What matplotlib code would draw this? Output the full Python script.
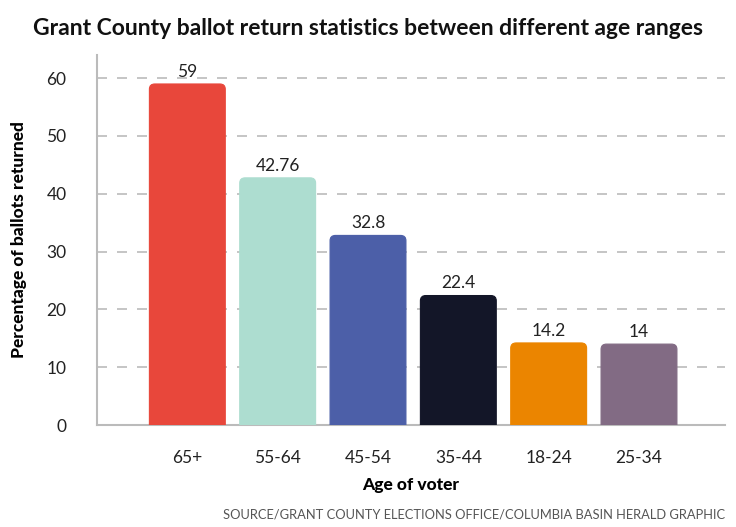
import matplotlib
matplotlib.use("Agg")
import matplotlib.pyplot as plt
from matplotlib.patches import FancyBboxPatch

# data
age_groups = ["65+", "55-64", "45-54", "35-44", "18-24", "25-34"]
pct_returned = [59, 42.76, 32.8, 22.4, 14.2, 14]
value_labels = ["59", "42.76", "32.8", "22.4", "14.2", "14"]
bar_colors = ["#E8473B", "#ADDDD0", "#4C5FA8", "#131628", "#EB8500", "#826B84"]

plt.rcParams["font.family"] = ["Lato", "DejaVu Sans"]

fig = plt.figure(figsize=(7.36, 5.27), dpi=100)
ax = fig.add_axes([0.1318, 0.1935, 0.853, 0.702])

bars = ax.bar(range(len(age_groups)), pct_returned, width=0.84, color=bar_colors)

# swap the plain rectangles for rounded ones (top corners show, bottom clipped)
for b, c in zip(bars, bar_colors):
    x, w, h = b.get_x(), b.get_width(), b.get_height()
    b.set_visible(False)
    p = FancyBboxPatch((x, -3), w, h + 3,
                       boxstyle="round,pad=0,rounding_size=0.06",
                       mutation_aspect=15,
                       fc=c, ec=c, lw=0.8, zorder=3)
    ax.add_patch(p)

for i, (v, t) in enumerate(zip(pct_returned, value_labels)):
    ax.text(i, v + 0.7, t, ha="center", va="bottom", fontsize=12.5, color="#222222")

ax.set_xlim(-1.0, 5.95)
ax.set_ylim(0, 64)
ax.set_yticks([0, 10, 20, 30, 40, 50, 60])
ax.set_xticks(range(len(age_groups)))
ax.set_xticklabels(age_groups)
ax.tick_params(axis="both", length=0, labelsize=12.5, colors="#222222")
ax.tick_params(axis="x", pad=18)
ax.tick_params(axis="y", pad=22)

ax.yaxis.grid(True, color="#BBBBBB", linestyle=(0, (6, 6)), lw=1.2)
ax.set_axisbelow(True)
for s in ["top", "right"]:
    ax.spines[s].set_visible(False)
ax.spines["left"].set_color("#BBBBBB")
ax.spines["bottom"].set_color("#BBBBBB")
ax.spines["left"].set_linewidth(1.5)
ax.spines["bottom"].set_linewidth(1.5)

ax.set_ylabel("Percentage of ballots returned", fontsize=12.5, fontweight="black", labelpad=14)
ax.set_xlabel("Age of voter", fontsize=12.5, fontweight="black", labelpad=8)

fig.text(0.5, 0.945, "Grant County ballot return statistics between different age ranges",
         ha="center", va="center", fontsize=16.5, fontweight="bold", color="#111111")
fig.text(0.985, 0.024, "SOURCE/GRANT COUNTY ELECTIONS OFFICE/COLUMBIA BASIN HERALD GRAPHIC",
         ha="right", va="center", fontsize=9.3, color="#555555")

fig.savefig("out.png", dpi=100)
